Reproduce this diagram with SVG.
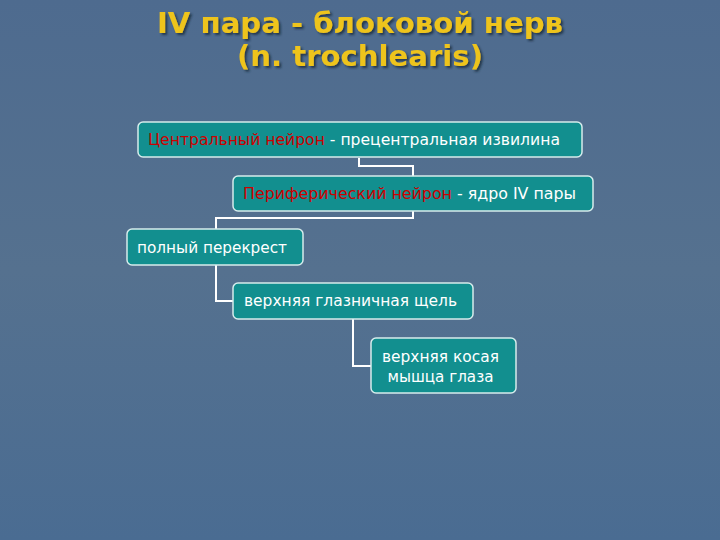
<svg xmlns="http://www.w3.org/2000/svg" width="720" height="540" viewBox="0 0 720 540">
<defs>
<linearGradient id="bg" x1="0" y1="0" x2="0" y2="1">
<stop offset="0" stop-color="#4e6b8f"/>
<stop offset="0.5" stop-color="#55718f"/>
<stop offset="1" stop-color="#4a6c92"/>
</linearGradient>
<filter id="sh" x="-10%" y="-10%" width="120%" height="130%">
<feDropShadow dx="2" dy="2" stdDeviation="0.8" flood-color="#1a2a3a" flood-opacity="0.8"/>
</filter>
</defs>
<style>
.box{fill:#128f8f;stroke:#d6ecec;stroke-width:1.5}
.t{font-family:"DejaVu Sans",Verdana,sans-serif;font-size:15px;fill:#ffffff}
.r{fill:#cc0000}
.title{font-family:"DejaVu Sans",Verdana,sans-serif;font-weight:bold;font-size:29px;fill:#eec41a;filter:url(#sh)}
.c{fill:none;stroke:#ffffff;stroke-width:2}
</style>
<rect width="720" height="540" fill="url(#bg)"/>
<g id="title">
<text class="title" x="360" y="33" text-anchor="middle" textLength="406" lengthAdjust="spacingAndGlyphs">IV пара - блоковой нерв</text>
<text class="title" x="360" y="66" text-anchor="middle" textLength="246" lengthAdjust="spacingAndGlyphs">(n. trochlearis)</text>
</g>
<g id="connectors">
<polyline class="c" points="359,158 359,166 413,166 413,176"/>
<polyline class="c" points="413,211 413,218 216,218 216,229"/>
<polyline class="c" points="216,265 216,301 233,301"/>
<polyline class="c" points="353,319 353,366 371,366"/>
</g>
<g id="n1">
<rect class="box" x="138" y="122" width="444" height="35" rx="5"/>
<text class="t" x="148" y="145" textLength="412" lengthAdjust="spacingAndGlyphs"><tspan class="r">Центральный нейрон</tspan> - прецентральная извилина</text>
</g>
<g id="n2">
<rect class="box" x="233" y="176" width="360" height="35" rx="5"/>
<text class="t" x="243" y="199" textLength="333" lengthAdjust="spacingAndGlyphs"><tspan class="r">Периферический нейрон</tspan> - ядро IV пары</text>
</g>
<g id="n3">
<rect class="box" x="127" y="229" width="176" height="36" rx="5"/>
<text class="t" x="137" y="253" textLength="150" lengthAdjust="spacingAndGlyphs">полный перекрест</text>
</g>
<g id="n4">
<rect class="box" x="233" y="283" width="240" height="36" rx="5"/>
<text class="t" x="244" y="306" textLength="213" lengthAdjust="spacingAndGlyphs">верхняя глазничная щель</text>
</g>
<g id="n5">
<rect class="box" x="371" y="338" width="145" height="55" rx="5"/>
<text class="t" x="440.5" y="362" text-anchor="middle" textLength="117" lengthAdjust="spacingAndGlyphs">верхняя косая</text>
<text class="t" x="440.5" y="382" text-anchor="middle" textLength="106" lengthAdjust="spacingAndGlyphs">мышца глаза</text>
</g>
</svg>
